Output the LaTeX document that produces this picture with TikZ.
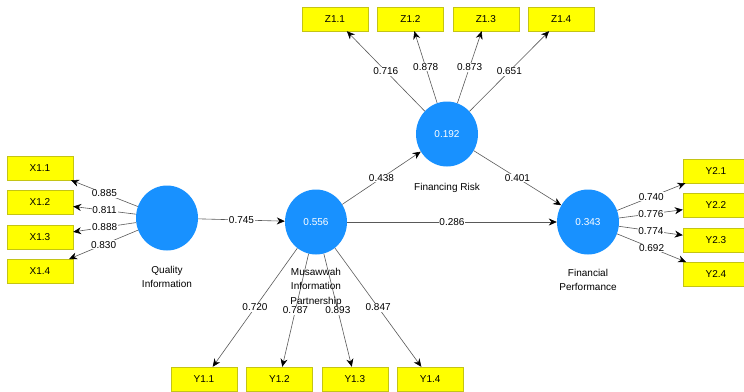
\documentclass[tikz,border=0pt]{standalone}
\usepackage{fontspec}
\setmainfont{Liberation Sans}
\usetikzlibrary{positioning, arrows.meta, shapes.geometric}
\definecolor{lvblue}{RGB}{24,145,255}
\definecolor{indyellow}{RGB}{255,255,0}
\definecolor{indedge}{RGB}{196,196,20}

\begin{document}
\begin{tikzpicture}[
  x=1pt, y=-1pt,
  font=\fontsize{10}{12}\selectfont,
  >={Stealth[length=8pt, width=7pt, color=black]},
  lv/.style={ellipse, fill=lvblue, minimum width=62pt, minimum height=65pt,
             inner sep=0pt, text=white},
  ind/.style={draw=indedge, fill=indyellow, minimum width=66pt,
              minimum height=24pt, inner sep=0pt},
  arr/.style={->, draw=black!65, line width=0.6pt},
  wt/.style={fill=white, inner sep=0.8pt},
  lvname/.style={align=center, font=\fontsize{10}{14.5}\selectfont, inner sep=1pt},
]
\useasboundingbox (0,0) rectangle (744,391);
% ---- latent variables ----
\node[lv] (qi) at (167,218) {};
\node[lv] (mip) at (316,222) {0.556};
\node[lv] (fr) at (447,134) {0.192};
\node[lv] (fp) at (588,222) {0.343};
% ---- quality information indicators ----
\node[ind] (x11) at (40,168) {X1.1};
\node[ind, below=10pt of x11] (x12) {X1.2};
\node[ind, below=10pt of x12] (x13) {X1.3};
\node[ind, below=10pt of x13] (x14) {X1.4};
% ---- financing risk indicators ----
\node[ind] (z11) at (335,19) {Z1.1};
\node[ind, right=9pt of z11] (z12) {Z1.2};
\node[ind, right=9pt of z12] (z13) {Z1.3};
\node[ind, right=9pt of z13] (z14) {Z1.4};
% ---- partnership indicators ----
\node[ind] (y11) at (204,379) {Y1.1};
\node[ind, right=9pt of y11] (y12) {Y1.2};
\node[ind, right=9pt of y12] (y13) {Y1.3};
\node[ind, right=9pt of y13] (y14) {Y1.4};
% ---- performance indicators ----
\node[ind] (y21) at (716,171) {Y2.1};
\node[ind, below=10pt of y21] (y22) {Y2.2};
\node[ind, below=10pt of y22] (y23) {Y2.3};
\node[ind, below=10pt of y23] (y24) {Y2.4};
% ---- outer loadings ----
\draw[arr] (qi) -- node[wt] {0.885} (x11);
\draw[arr] (qi) -- node[wt] {0.811} (x12);
\draw[arr] (qi) -- node[wt] {0.888} (x13);
\draw[arr] (qi) -- node[wt] {0.830} (x14);
\draw[arr] (fr) -- node[wt] {0.716} (z11);
\draw[arr] (fr) -- node[wt] {0.878} (z12);
\draw[arr] (fr) -- node[wt] {0.873} (z13);
\draw[arr] (fr) -- node[wt] {0.651} (z14);
\draw[arr] (mip) -- node[wt] {0.720} (y11);
\draw[arr] (mip) -- node[wt] {0.787} (y12);
\draw[arr] (mip) -- node[wt] {0.893} (y13);
\draw[arr] (mip) -- node[wt] {0.847} (y14);
\draw[arr] (fp) -- node[wt] {0.740} (y21);
\draw[arr] (fp) -- node[wt] {0.776} (y22);
\draw[arr] (fp) -- node[wt] {0.774} (y23);
\draw[arr] (fp) -- node[wt] {0.692} (y24);
% ---- path coefficients ----
\draw[arr] (qi) -- node[wt] {0.745} (mip);
\draw[arr] (mip) -- node[wt] {0.438} (fr);
\draw[arr] (fr) -- node[wt] {0.401} (fp);
\draw[arr] (mip) -- node[wt] {0.286} (fp);
% ---- construct names ----
\node[lvname, below=14pt of qi] (qiname) {Quality\\Information};
\node[lvname, below=12pt of mip] (mipname) {Musawwah\\Information\\Partnership};
\node[lvname, below=15pt of fr] (frname) {Financing Risk};
\node[lvname, below=13pt of fp] (fpname) {Financial\\Performance};
\end{tikzpicture}
\end{document}
